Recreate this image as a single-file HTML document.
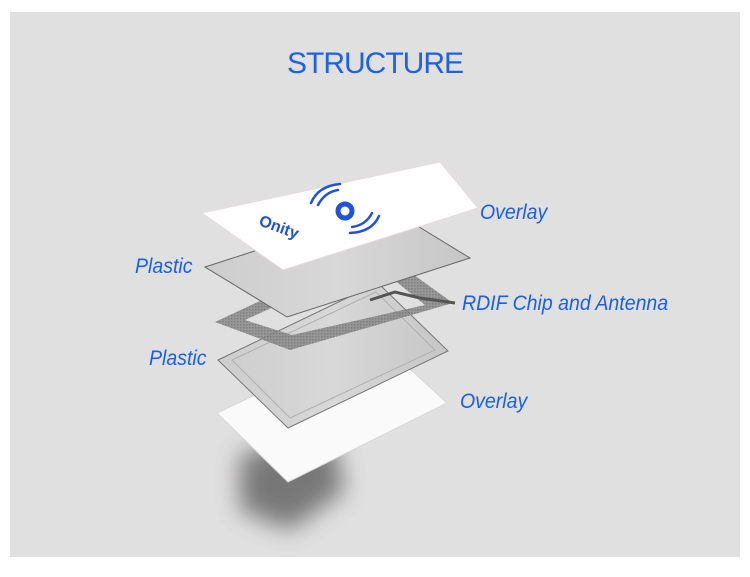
<!DOCTYPE html>
<html><head><meta charset="utf-8"><style>
html,body{margin:0;padding:0;background:#fff;}
svg{display:block}
</style></head><body>
<svg width="750" height="577" viewBox="0 0 750 577" xmlns="http://www.w3.org/2000/svg">
<defs>
<filter id="blur" x="-50%" y="-50%" width="200%" height="200%"><feGaussianBlur stdDeviation="12"/></filter>
<linearGradient id="gp" x1="0" y1="0" x2="1" y2="0"><stop offset="0" stop-color="#cdcdcd"/><stop offset="0.5" stop-color="#d8d8d8"/><stop offset="1" stop-color="#c6c6c6"/></linearGradient>
<pattern id="hatch" width="3" height="3" patternUnits="userSpaceOnUse"><rect width="3" height="3" fill="#8a8a8a"/><rect width="1.5" height="1.5" fill="#6e6e6e"/></pattern>
</defs>
<rect x="10" y="12" width="730" height="545" fill="#e1e0e0"/>
<text x="375" y="73" text-anchor="middle" font-family="Liberation Sans, sans-serif" font-size="30" fill="#1e62e2" letter-spacing="-1">STRUCTURE</text>

<!-- shadow -->
<polygon points="240,455 330,430 345,490 290,530 240,510" fill="#555" opacity="0.75" filter="url(#blur)"/>
<!-- bottom overlay -->
<polygon points="217,413 376,338 447,403 288,482" fill="#fafafa" stroke="#d8d8d8" stroke-width="1"/>
<!-- plastic 2 -->
<polygon points="218,360 378,283 448,351 288,428" fill="url(#gp)" stroke="#777" stroke-width="1"/>
<polygon points="232,360 376,292 435,350 290,418" fill="none" stroke="#b0b0b0" stroke-width="1"/>
<!-- antenna -->
<path d="M215,322 L375,247 L453,303 L290,350 Z M245,320 L372,262 L425,305 L292,335 Z" fill="url(#hatch)" fill-rule="evenodd" opacity="0.85"/>
<path d="M370,300 L395,292 L420,298 L455,303" stroke="#555" stroke-width="3" fill="none"/>
<!-- plastic 1 -->
<polygon points="205,267 388,208 470,258 287,317" fill="url(#gp)" stroke="#666" stroke-width="1"/>
<!-- top overlay -->
<polygon points="202,213 440,162 478,208 283,270" fill="#fff" stroke="#e6dcdc" stroke-width="1"/>
<g fill="none" stroke="#2253d6" stroke-width="2.5" stroke-linecap="round">
<circle cx="345" cy="211" r="7" stroke-width="5"/>
<path d="M318,205 Q325,192 338,190"/><path d="M311,203 Q318,186 340,184"/>
<path d="M372,213 Q366,225 352,227"/><path d="M379,216 Q372,232 350,233"/>
</g>
<text x="258" y="225" font-family="Liberation Sans, sans-serif" font-weight="bold" font-size="16" fill="#2253d6" transform="rotate(20 258 225)">Onity</text>

<g font-family="Liberation Sans, sans-serif" font-style="italic" font-size="21" fill="#1a5fe6">
<text x="480" y="219" transform="translate(480 0) scale(0.93 1) translate(-480 0)">Overlay</text>
<text x="135" y="273" transform="translate(135 0) scale(0.93 1) translate(-135 0)">Plastic</text>
<text x="462" y="310" transform="translate(462 0) scale(0.93 1) translate(-462 0)">RDIF Chip and Antenna</text>
<text x="149" y="365" transform="translate(149 0) scale(0.93 1) translate(-149 0)">Plastic</text>
<text x="460" y="408" transform="translate(460 0) scale(0.93 1) translate(-460 0)">Overlay</text>
</g>
</svg>
</body></html>
